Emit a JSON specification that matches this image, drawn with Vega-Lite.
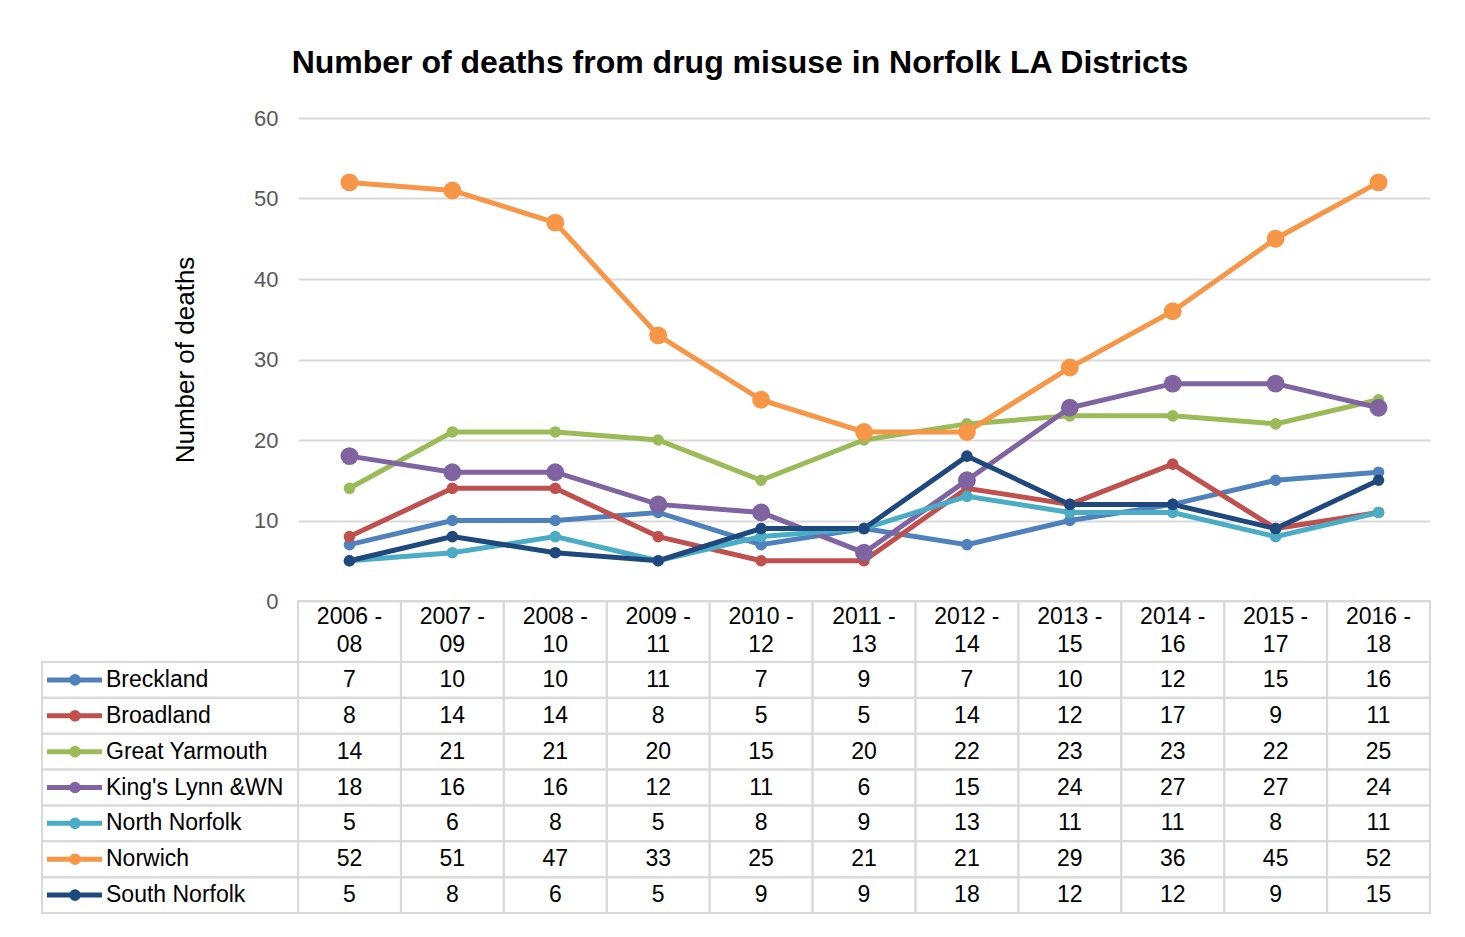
{
  "$schema": "https://vega.github.io/schema/vega-lite/v6.json",
  "autosize": "none",
  "width": 1132,
  "height": 483,
  "padding": {"left": 298, "top": 118, "right": 35, "bottom": 336},
  "background": "white",
  "config": {"view": {"stroke": null}, "font": "Liberation Sans"},
  "title": {"text": "Number of deaths from drug misuse in Norfolk LA Districts", "fontSize": 32, "fontWeight": "bold", "color": "#000000", "anchor": "middle", "frame": "bounds", "baseline": "alphabetic", "offset": 2, "dx": 4, "font": "Liberation Sans"},
  "datasets": {
    "periods": [
      {"period": "2006 - 08"}, {"period": "2007 - 09"}, {"period": "2008 - 10"}, {"period": "2009 - 11"}, {"period": "2010 - 12"}, {"period": "2011 - 13"}, {"period": "2012 - 14"}, {"period": "2013 - 15"}, {"period": "2014 - 16"}, {"period": "2015 - 17"}, {"period": "2016 - 18"}
    ],
    "districts": [
      {"district": "Breckland"}, {"district": "Broadland"}, {"district": "Great Yarmouth"}, {"district": "King's Lynn &WN"}, {"district": "North Norfolk"}, {"district": "Norwich"}, {"district": "South Norfolk"}
    ],
    "deaths": [
      {"period": "2006 - 08", "district": "Breckland", "deaths": 7},
      {"period": "2007 - 09", "district": "Breckland", "deaths": 10},
      {"period": "2008 - 10", "district": "Breckland", "deaths": 10},
      {"period": "2009 - 11", "district": "Breckland", "deaths": 11},
      {"period": "2010 - 12", "district": "Breckland", "deaths": 7},
      {"period": "2011 - 13", "district": "Breckland", "deaths": 9},
      {"period": "2012 - 14", "district": "Breckland", "deaths": 7},
      {"period": "2013 - 15", "district": "Breckland", "deaths": 10},
      {"period": "2014 - 16", "district": "Breckland", "deaths": 12},
      {"period": "2015 - 17", "district": "Breckland", "deaths": 15},
      {"period": "2016 - 18", "district": "Breckland", "deaths": 16},
      {"period": "2006 - 08", "district": "Broadland", "deaths": 8},
      {"period": "2007 - 09", "district": "Broadland", "deaths": 14},
      {"period": "2008 - 10", "district": "Broadland", "deaths": 14},
      {"period": "2009 - 11", "district": "Broadland", "deaths": 8},
      {"period": "2010 - 12", "district": "Broadland", "deaths": 5},
      {"period": "2011 - 13", "district": "Broadland", "deaths": 5},
      {"period": "2012 - 14", "district": "Broadland", "deaths": 14},
      {"period": "2013 - 15", "district": "Broadland", "deaths": 12},
      {"period": "2014 - 16", "district": "Broadland", "deaths": 17},
      {"period": "2015 - 17", "district": "Broadland", "deaths": 9},
      {"period": "2016 - 18", "district": "Broadland", "deaths": 11},
      {"period": "2006 - 08", "district": "Great Yarmouth", "deaths": 14},
      {"period": "2007 - 09", "district": "Great Yarmouth", "deaths": 21},
      {"period": "2008 - 10", "district": "Great Yarmouth", "deaths": 21},
      {"period": "2009 - 11", "district": "Great Yarmouth", "deaths": 20},
      {"period": "2010 - 12", "district": "Great Yarmouth", "deaths": 15},
      {"period": "2011 - 13", "district": "Great Yarmouth", "deaths": 20},
      {"period": "2012 - 14", "district": "Great Yarmouth", "deaths": 22},
      {"period": "2013 - 15", "district": "Great Yarmouth", "deaths": 23},
      {"period": "2014 - 16", "district": "Great Yarmouth", "deaths": 23},
      {"period": "2015 - 17", "district": "Great Yarmouth", "deaths": 22},
      {"period": "2016 - 18", "district": "Great Yarmouth", "deaths": 25},
      {"period": "2006 - 08", "district": "King's Lynn &WN", "deaths": 18},
      {"period": "2007 - 09", "district": "King's Lynn &WN", "deaths": 16},
      {"period": "2008 - 10", "district": "King's Lynn &WN", "deaths": 16},
      {"period": "2009 - 11", "district": "King's Lynn &WN", "deaths": 12},
      {"period": "2010 - 12", "district": "King's Lynn &WN", "deaths": 11},
      {"period": "2011 - 13", "district": "King's Lynn &WN", "deaths": 6},
      {"period": "2012 - 14", "district": "King's Lynn &WN", "deaths": 15},
      {"period": "2013 - 15", "district": "King's Lynn &WN", "deaths": 24},
      {"period": "2014 - 16", "district": "King's Lynn &WN", "deaths": 27},
      {"period": "2015 - 17", "district": "King's Lynn &WN", "deaths": 27},
      {"period": "2016 - 18", "district": "King's Lynn &WN", "deaths": 24},
      {"period": "2006 - 08", "district": "North Norfolk", "deaths": 5},
      {"period": "2007 - 09", "district": "North Norfolk", "deaths": 6},
      {"period": "2008 - 10", "district": "North Norfolk", "deaths": 8},
      {"period": "2009 - 11", "district": "North Norfolk", "deaths": 5},
      {"period": "2010 - 12", "district": "North Norfolk", "deaths": 8},
      {"period": "2011 - 13", "district": "North Norfolk", "deaths": 9},
      {"period": "2012 - 14", "district": "North Norfolk", "deaths": 13},
      {"period": "2013 - 15", "district": "North Norfolk", "deaths": 11},
      {"period": "2014 - 16", "district": "North Norfolk", "deaths": 11},
      {"period": "2015 - 17", "district": "North Norfolk", "deaths": 8},
      {"period": "2016 - 18", "district": "North Norfolk", "deaths": 11},
      {"period": "2006 - 08", "district": "Norwich", "deaths": 52},
      {"period": "2007 - 09", "district": "Norwich", "deaths": 51},
      {"period": "2008 - 10", "district": "Norwich", "deaths": 47},
      {"period": "2009 - 11", "district": "Norwich", "deaths": 33},
      {"period": "2010 - 12", "district": "Norwich", "deaths": 25},
      {"period": "2011 - 13", "district": "Norwich", "deaths": 21},
      {"period": "2012 - 14", "district": "Norwich", "deaths": 21},
      {"period": "2013 - 15", "district": "Norwich", "deaths": 29},
      {"period": "2014 - 16", "district": "Norwich", "deaths": 36},
      {"period": "2015 - 17", "district": "Norwich", "deaths": 45},
      {"period": "2016 - 18", "district": "Norwich", "deaths": 52},
      {"period": "2006 - 08", "district": "South Norfolk", "deaths": 5},
      {"period": "2007 - 09", "district": "South Norfolk", "deaths": 8},
      {"period": "2008 - 10", "district": "South Norfolk", "deaths": 6},
      {"period": "2009 - 11", "district": "South Norfolk", "deaths": 5},
      {"period": "2010 - 12", "district": "South Norfolk", "deaths": 9},
      {"period": "2011 - 13", "district": "South Norfolk", "deaths": 9},
      {"period": "2012 - 14", "district": "South Norfolk", "deaths": 18},
      {"period": "2013 - 15", "district": "South Norfolk", "deaths": 12},
      {"period": "2014 - 16", "district": "South Norfolk", "deaths": 12},
      {"period": "2015 - 17", "district": "South Norfolk", "deaths": 9},
      {"period": "2016 - 18", "district": "South Norfolk", "deaths": 15}
    ]
  },
  "layer": [
    {
      "data": {"name": "deaths"},
      "encoding": {
        "x": {"field": "period", "type": "nominal", "sort": null,
          "scale": {"type": "band", "paddingInner": 0, "paddingOuter": 0, "domain": ["2006 - 08", "2007 - 09", "2008 - 10", "2009 - 11", "2010 - 12", "2011 - 13", "2012 - 14", "2013 - 15", "2014 - 16", "2015 - 17", "2016 - 18"]},
          "axis": {"orient": "bottom", "title": null, "domain": false, "ticks": false, "grid": false, "labelAngle": 0, "labelFontSize": 23, "labelColor": "#000000", "labelFont": "Liberation Sans", "labelPadding": 4, "labelBaseline": "top", "labelLineHeight": 28, "labelExpr": "[slice(datum.label, 0, 6), slice(datum.label, 7)]", "zindex": 1}},
        "y": {"field": "deaths", "type": "quantitative",
          "scale": {"domain": [0, 60], "nice": false},
          "axis": {"values": [0, 10, 20, 30, 40, 50, 60], "grid": true, "gridColor": "#d9d9d9", "gridWidth": 2, "domain": false, "ticks": false, "labelFontSize": 22, "labelColor": "#595959", "labelFont": "Liberation Sans", "labelPadding": 20, "title": "Number of deaths", "titleFontSize": 26, "titleFontWeight": "normal", "titleColor": "#000000", "titleFont": "Liberation Sans", "titlePadding": 55}},
        "color": {"field": "district", "type": "nominal",
          "scale": {"domain": ["Breckland", "Broadland", "Great Yarmouth", "King's Lynn &WN", "North Norfolk", "Norwich", "South Norfolk"], "range": ["#4F81BD", "#C0504D", "#9BBB59", "#8064A2", "#4BACC6", "#F79646", "#1F497D"]},
          "legend": null}
      },
      "layer": [
        {"mark": {"type": "line", "strokeWidth": 5}},
        {"mark": {"type": "point", "filled": true, "opacity": 1},
         "encoding": {"size": {"condition": {"test": "datum.district === 'Norwich' || datum.district === \"King's Lynn &WN\"", "value": 320}, "value": 135}}}
      ]
    },
    {
      "data": {"name": "periods"},
      "mark": {"type": "rect", "fill": "transparent", "stroke": "#d9d9d9", "strokeWidth": 2},
      "encoding": {
        "x": {"field": "period", "type": "nominal", "sort": null,
          "scale": {"type": "band", "paddingInner": 0, "paddingOuter": 0, "domain": ["2006 - 08", "2007 - 09", "2008 - 10", "2009 - 11", "2010 - 12", "2011 - 13", "2012 - 14", "2013 - 15", "2014 - 16", "2015 - 17", "2016 - 18"]},
          "axis": null},
        "y": {"datum": "header", "type": "nominal",
          "scale": {"type": "band", "domain": ["header"], "range": [483, 544], "paddingInner": 0, "paddingOuter": 0},
          "axis": null}
      }
    },
    {
      "data": {"name": "deaths"},
      "encoding": {
        "x": {"field": "period", "type": "nominal", "sort": null,
          "scale": {"type": "band", "paddingInner": 0, "paddingOuter": 0, "domain": ["2006 - 08", "2007 - 09", "2008 - 10", "2009 - 11", "2010 - 12", "2011 - 13", "2012 - 14", "2013 - 15", "2014 - 16", "2015 - 17", "2016 - 18"]},
          "axis": null},
        "y": {"field": "district", "type": "nominal", "sort": null,
          "scale": {"type": "band", "domain": ["Breckland", "Broadland", "Great Yarmouth", "King's Lynn &WN", "North Norfolk", "Norwich", "South Norfolk"], "range": [544, 795], "paddingInner": 0, "paddingOuter": 0},
          "axis": null}
      },
      "layer": [
        {"mark": {"type": "rect", "fill": "transparent", "stroke": "#d9d9d9", "strokeWidth": 2}},
        {"mark": {"type": "text", "fontSize": 23, "font": "Liberation Sans", "color": "#000000", "align": "center", "baseline": "middle"},
         "encoding": {"text": {"field": "deaths", "type": "quantitative"}}}
      ]
    },
    {
      "data": {"name": "districts"},
      "encoding": {
        "y": {"field": "district", "type": "nominal", "sort": null,
          "scale": {"type": "band", "domain": ["Breckland", "Broadland", "Great Yarmouth", "King's Lynn &WN", "North Norfolk", "Norwich", "South Norfolk"], "range": [544, 795], "paddingInner": 0, "paddingOuter": 0},
          "axis": null}
      },
      "layer": [
        {"mark": {"type": "rect", "fill": "transparent", "stroke": "#d9d9d9", "strokeWidth": 2},
         "encoding": {
           "x": {"datum": 0, "type": "quantitative", "scale": {"domain": [0, 256], "range": [-256, 0], "padding": 0, "nice": false, "zero": false}, "axis": null},
           "x2": {"datum": 256}}},
        {"mark": {"type": "rule", "strokeWidth": 5},
         "encoding": {
           "x": {"datum": 5, "type": "quantitative"},
           "x2": {"datum": 60},
           "color": {"field": "district", "type": "nominal", "legend": null}}},
        {"mark": {"type": "point", "filled": true, "opacity": 1, "size": 135},
         "encoding": {
           "x": {"datum": 33, "type": "quantitative"},
           "color": {"field": "district", "type": "nominal", "legend": null}}},
        {"mark": {"type": "text", "fontSize": 23, "font": "Liberation Sans", "color": "#000000", "align": "left", "baseline": "middle"},
         "encoding": {
           "x": {"datum": 64, "type": "quantitative"},
           "text": {"field": "district", "type": "nominal"}}}
      ]
    }
  ],
  "resolve": {"scale": {"x": "independent", "y": "independent"}}
}
